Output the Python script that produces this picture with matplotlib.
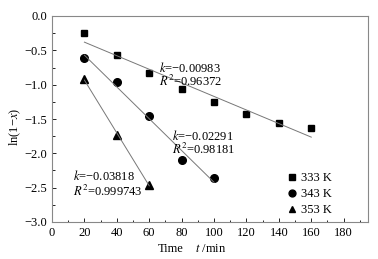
import numpy as np
import matplotlib
matplotlib.use('Agg')
from matplotlib import pyplot as plt
from matplotlib.ticker import MultipleLocator

plt.rcParams['font.family'] = ['Liberation Serif', 'DejaVu Serif']
plt.rcParams['mathtext.fontset'] = 'stix'

# 数据
t_333 = [20, 40, 60, 80, 100, 120, 140, 160]
y_333 = [-0.25, -0.57, -0.83, -1.06, -1.25, -1.43, -1.56, -1.63]
t_343 = [20, 40, 60, 80, 100]
y_343 = [-0.61, -0.96, -1.46, -2.09, -2.36]
t_353 = [20, 40, 60]
y_353 = [-0.92, -1.73, -2.46]
labels = ['333 K', '343 K', '353 K']
k_text = ['\u22120.00983', '\u22120.02291', '\u22120.03818']
r2_text = ['0.96372', '0.98181', '0.999743']

fig = plt.figure(figsize=(3.78, 2.59), dpi=100)
ax = fig.add_axes([52 / 378, 1 - 222 / 259, (368 - 52) / 378, (222 - 16) / 259])

series = [(t_333, y_333, 's', 4.5), (t_343, y_343, 'o', 5.5), (t_353, y_353, '^', 5.5)]
for (t, y, m, ms), lab in zip(series, labels):
    ax.plot(t, y, m, color='black', ms=ms, label=lab, ls='none')
    p = np.polyfit(t, y, 1)
    xx = np.array([t[0], t[-1]])
    ax.plot(xx, np.polyval(p, xx), color='#777777', lw=0.7)

ax.set_xlim(0, 195)
ax.set_ylim(-3.0, 0.0)
ax.xaxis.set_major_locator(MultipleLocator(20))
ax.xaxis.set_minor_locator(MultipleLocator(10))
ax.yaxis.set_major_locator(MultipleLocator(0.5))
ax.yaxis.set_minor_locator(MultipleLocator(0.25))
ax.tick_params(which='both', direction='in', labelsize=9, colors='black')
ax.tick_params(which='major', length=3, width=0.6)
ax.tick_params(which='minor', length=1.8, width=0.6)
ax.yaxis.set_major_formatter(plt.FuncFormatter(lambda v, p: ('%.1f' % v).replace('-', '\u2212')))
for s in ax.spines.values():
    s.set_color('#888888')
    s.set_linewidth(0.8)

# 注释
pos = [(66, -0.75, -0.95), (74, -1.75, -1.95), (13, -2.33, -2.55)]
for (x0, yk, yr), kt, rt in zip(pos, k_text, r2_text):
    ax.text(x0, yk, '$k$=' + kt, fontsize=9, va='center')
    ax.text(x0, yr, '$R^2$=' + rt, fontsize=9, va='center')

ax.legend(loc='lower right', bbox_to_anchor=(0.92, -0.025), frameon=False, fontsize=9,
          handletextpad=0.1, handlelength=1.2, labelspacing=0.3, markerscale=0.9)

fig.text(15 / 378, 1 - 127 / 259, 'ln(1\u2212$x$)', rotation=90, ha='center', va='center', fontsize=9)
fig.text(171 / 378, 1 - 249 / 259, 'Time', ha='center', va='center', fontsize=9)
fig.text(211 / 378, 1 - 249 / 259, '$t$ /min', ha='center', va='center', fontsize=9)

fig.savefig('out.png', dpi=100)
